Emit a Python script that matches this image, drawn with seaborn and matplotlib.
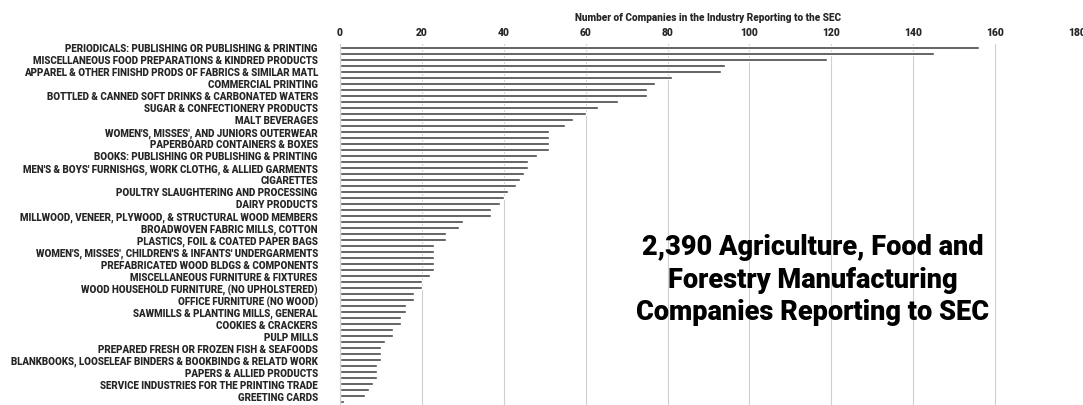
import numpy as np
import pandas as pd
import matplotlib
matplotlib.use('Agg')
import matplotlib.pyplot as plt
import seaborn as sns

# labels shown on every other bar (Excel skips alternate category labels)
shown_labels = [
    "PERIODICALS: PUBLISHING OR PUBLISHING & PRINTING",
    "MISCELLANEOUS FOOD PREPARATIONS & KINDRED PRODUCTS",
    "APPAREL & OTHER FINISHD PRODS OF FABRICS & SIMILAR MATL",
    "COMMERCIAL PRINTING",
    "BOTTLED & CANNED SOFT DRINKS & CARBONATED WATERS",
    "SUGAR & CONFECTIONERY PRODUCTS",
    "MALT BEVERAGES",
    "WOMEN'S, MISSES', AND JUNIORS OUTERWEAR",
    "PAPERBOARD CONTAINERS & BOXES",
    "BOOKS: PUBLISHING OR PUBLISHING & PRINTING",
    "MEN'S & BOYS' FURNISHGS, WORK CLOTHG, & ALLIED GARMENTS",
    "CIGARETTES",
    "POULTRY SLAUGHTERING AND PROCESSING",
    "DAIRY PRODUCTS",
    "MILLWOOD, VENEER, PLYWOOD, & STRUCTURAL WOOD MEMBERS",
    "BROADWOVEN FABRIC MILLS, COTTON",
    "PLASTICS, FOIL & COATED PAPER BAGS",
    "WOMEN'S, MISSES', CHILDREN'S & INFANTS' UNDERGARMENTS",
    "PREFABRICATED WOOD BLDGS & COMPONENTS",
    "MISCELLANEOUS FURNITURE & FIXTURES",
    "WOOD HOUSEHOLD FURNITURE, (NO UPHOLSTERED)",
    "OFFICE FURNITURE (NO WOOD)",
    "SAWMILLS & PLANTING MILLS, GENERAL",
    "COOKIES & CRACKERS",
    "PULP MILLS",
    "PREPARED FRESH OR FROZEN FISH & SEAFOODS",
    "BLANKBOOKS, LOOSELEAF BINDERS & BOOKBINDG & RELATD WORK",
    "PAPERS & ALLIED PRODUCTS",
    "SERVICE INDUSTRIES FOR THE PRINTING TRADE",
    "GREETING CARDS",
]

# companies per industry, all 60 bars top to bottom (sums to 2,390)
counts = [156, 145, 119, 94, 93, 81, 77, 75, 75, 68,
          63, 60, 57, 55, 51, 51, 51, 51, 48, 46,
          46, 45, 44, 43, 41, 40, 39, 37, 37, 30,
          29, 26, 26, 23, 23, 23, 23, 23, 22, 20,
          20, 18, 18, 16, 16, 15, 15, 13, 13, 11,
          10, 10, 10, 9, 9, 9, 8, 7, 6, 1]

xticks = [0, 20, 40, 60, 80, 100, 120, 140, 160, 180]

sns.set_style('white')
plt.rcParams['font.family'] = ['Roboto', 'DejaVu Sans']

df = pd.DataFrame({'rank': [str(i) for i in range(len(counts))], 'count': counts})

fig = plt.figure(figsize=(10.83, 4.06), dpi=100)
ax = fig.add_axes([340 / 1083, 0.0, 737 / 1083, 1 - 45 / 406])

sns.barplot(data=df, x='count', y='rank', orient='h', order=df['rank'],
            color='#444444', saturation=1, width=0.5, ax=ax)

ax.set_xlim(0, 180)
ax.set_ylim(len(counts) - 0.5, -0.5)
ax.set_xticks(xticks)
ax.xaxis.tick_top()
ax.xaxis.set_label_position('top')
ax.tick_params(axis='x', length=0, pad=5, labelsize=7.5)
for t in ax.get_xticklabels():
    t.set_fontweight('black')
ax.set_xlabel('Number of Companies in the Industry Reporting to the SEC',
              fontsize=7.2, fontweight='black', labelpad=5)

ax.set_yticks(range(0, len(counts), 2))
ax.set_yticklabels(shown_labels, fontsize=7, fontweight='black')
ax.tick_params(axis='y', length=0, pad=16)
ax.set_ylabel('')

ax.grid(axis='x', color='#cfcfcf', linewidth=0.8)
ax.set_axisbelow(True)
for s in ['top', 'right', 'bottom']:
    ax.spines[s].set_visible(False)
ax.spines['left'].set_color('#cfcfcf')
ax.spines['left'].set_linewidth(0.8)

fig.text(813 / 1083, 1 - 280 / 406,
         '2,390 Agriculture, Food and\nForestry Manufacturing\nCompanies Reporting to SEC',
         ha='center', va='center', fontsize=19.5, fontweight='black',
         linespacing=1.25, color='black')

fig.savefig('out.png', dpi=100)
